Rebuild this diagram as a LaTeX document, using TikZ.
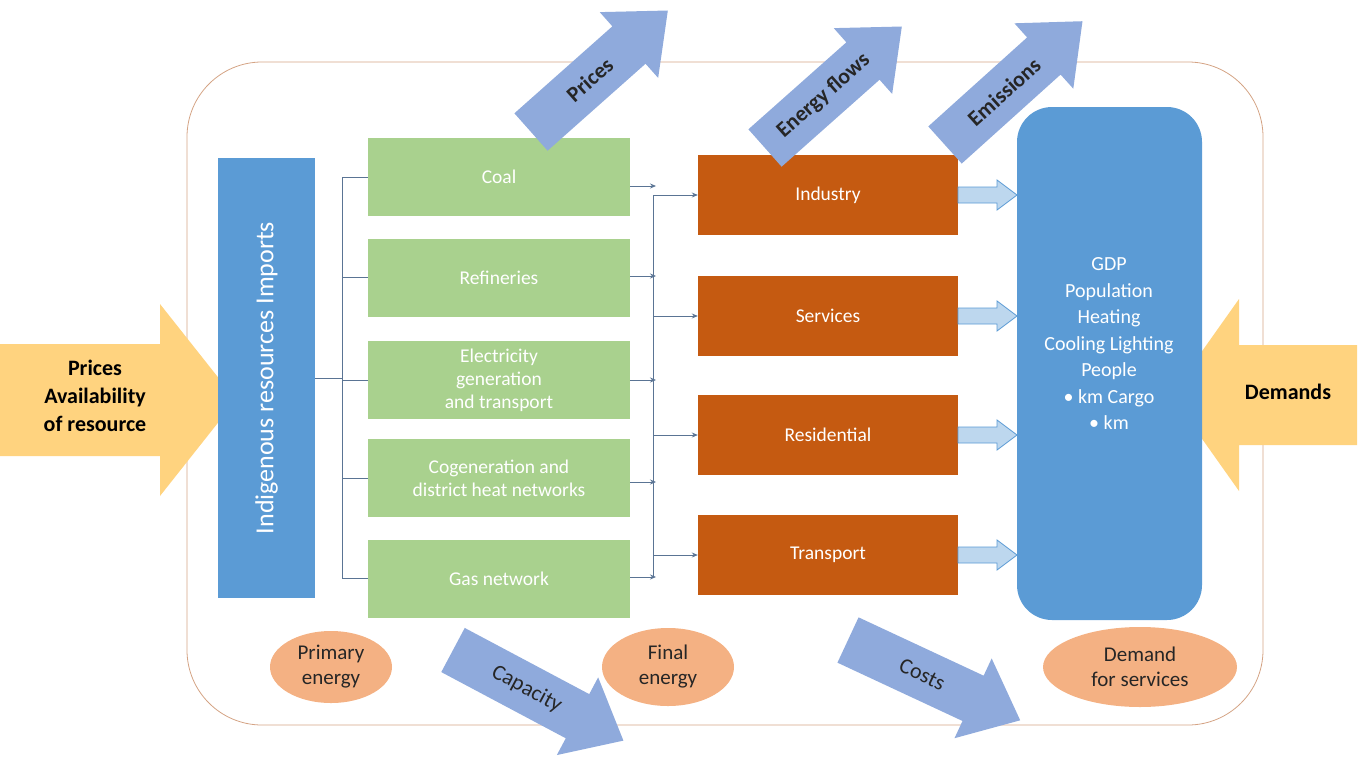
\documentclass[tikz,border=0pt]{standalone}
\usepackage{fontspec}
\setmainfont{Carlito}
\usetikzlibrary{arrows.meta,shapes.geometric}
\begin{document}
\begin{tikzpicture}[x=1pt,y=-1pt,
  green/.style={fill=greenc,minimum width=262pt,minimum height=78pt,text=white,font=\fontsize{19.5}{23}\selectfont,align=center},
  orange/.style={fill=orangec,minimum width=260pt,minimum height=80pt,text=white,font=\fontsize{19.5}{23}\selectfont},
  oval/.style={ellipse,fill=ovalc,font=\fontsize{21}{25}\selectfont,align=center,text=black!85,inner sep=1pt},
  conn/.style={draw=connc,line width=0.8pt},
  carr/.style={conn,-{Stealth[length=6pt,width=5pt]}},
  diag/.style={fill=diagc},
  hollow/.style={fill=hollowc,draw=bluec,line width=0.8pt},
  yel/.style={fill=yelc}]
\definecolor{greenc}{HTML}{A9D18E}
\definecolor{orangec}{HTML}{C55A11}
\definecolor{bluec}{HTML}{5B9BD5}
\definecolor{ovalc}{HTML}{F4B183}
\definecolor{connc}{HTML}{5A7494}
\definecolor{diagc}{HTML}{8FAADC}
\definecolor{hollowc}{HTML}{BDD7EE}
\definecolor{yelc}{HTML}{FFD37F}
\definecolor{framec}{HTML}{D4A384}
\useasboundingbox (0,0) rectangle (1362,758);
\newcommand\barrow[9]{\begin{scope}[shift={(#2,#3)},rotate=#4]
 \path[#1] (0,-#6)--(#5-#8,-#6)--(#5-#8,-#7)--(#5,0)--(#5-#8,#7)--(#5-#8,#6)--(0,#6)--cycle;
 \node[rotate=#4,text=black!85,font=\fontsize{22}{25}\selectfont] at ({(#5-#8)/2+#8/4},0) {#9};
\end{scope}}
% frame
\draw[framec,line width=0.8pt,rounded corners=75pt] (187,62) rectangle (1263,725);
% side arrows
\barrow{yel}{0}{400}{0}{236}{56}{96}{76}{}
\barrow{yel}{1357}{395}{180}{186}{50}{96}{68}{}
\node[font=\bfseries\fontsize{22}{28}\selectfont,align=center] (pa) at (95,396) {Prices\\Availability\\of resource};
\node[font=\bfseries\fontsize{22}{26}\selectfont] (dm) at (1288,392) {Demands};
% blue rect
\node[fill=bluec,minimum width=97pt,minimum height=440pt] (ind) at (266.5,378) {};
\node[rotate=90,text=white,font=\fontsize{26}{29}\selectfont] at (ind) {Indigenous resources Imports};
% green boxes
\node[green] (g1) at (499,177) {Coal};
\node[green] (g2) at (499,277.5) {Refineries};
\node[green] (g3) at (499,380) {Electricity\\generation\\and transport};
\node[green] (g4) at (499,478) {Cogeneration and\\district heat networks};
\node[green] (g5) at (499,578.5) {Gas network};
% bracket
\coordinate (bt) at (342,177); \coordinate (bb) at (342,578.5); \coordinate (bm) at (342,378);
\draw[conn] (bt)--(bb); \draw[conn] (ind.east |- bm)--(bm);
\foreach \g in {g1,g2,g3,g4,g5} \draw[conn] (bt |- \g.west)--(\g.west);
% orange boxes
\node[orange] (o1) at (828,195) {Industry};
\node[orange] (o2) at (828,316) {Services};
\node[orange] (o3) at (828,435) {Residential};
\node[orange] (o4) at (828,555) {Transport};
\coordinate (vt) at (653,195); \coordinate (vb) at (653,577);
\draw[conn] (vt)--(vb);
\foreach \y/\g in {186/g1,276/g2,380/g3,482/g4,577/g5} {\coordinate (c\g) at (656,\y); \draw[carr] (\g.east |- c\g)--(c\g);}
\foreach \o in {o1,o2,o3,o4} \draw[carr] (vt |- \o.west)--(\o.west);
% big blue
\node[fill=bluec,rounded corners=35pt,minimum width=185pt,minimum height=513pt] (gdp) at (1109.5,363.5) {};
\node[text=white,align=center,font=\fontsize{20}{26.5}\selectfont] at (1109,344) {GDP\\Population\\Heating\\Cooling Lighting\\People\\• km Cargo\\• km};
\foreach \y in {195,316,435,555} \barrow{hollow}{958}{\y}{0}{59}{8}{15}{20}{};
% ovals
\node[oval,minimum width=122pt,minimum height=72pt] (pe) at (331,667) {Primary\\energy};
\node[oval,minimum width=132pt,minimum height=78pt] (fe) at (668,667) {Final\\energy};
\node[oval,minimum width=194pt,minimum height=80pt] (ds) at (1140,667) {Demand\\for services};
% diagonal arrows
\barrow{diag}{531}{132}{41.6}{183}{25}{44}{52}{\bfseries Prices}
\barrow{diag}{765}{148}{41.6}{183}{25}{44}{52}{\bfseries Energy flows}
\barrow{diag}{945}{145}{42}{185}{25}{44}{52}{\bfseries Emissions}
\barrow{diag}{453}{650}{-28}{193}{25}{44}{52}{Capacity}
\barrow{diag}{848}{640}{-25}{190}{25}{44}{52}{Costs}
\end{tikzpicture}
\end{document}
